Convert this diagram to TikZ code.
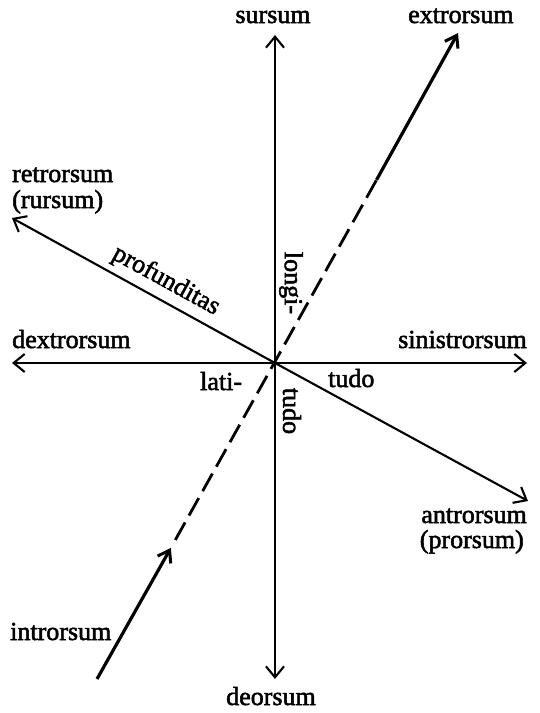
\documentclass[tikz,border=0pt]{standalone}
\usepackage{fontspec}
\setmainfont{Liberation Serif}[FakeBold=2]
\usetikzlibrary{arrows.meta,calc}
\tikzset{
  lab/.style={inner sep=0pt, font=\fontsize{26}{28}\selectfont},
  axis/.style={line width=2.1pt, -{Straight Barb[length=11pt,width=18pt,line width=2.1pt]}},
  diag/.style={line width=3.2pt, -{Straight Barb[length=11pt,width=15pt,line width=3pt]}},
  dashline/.style={line width=2.8pt, dash pattern=on 20pt off 8pt}
}
\begin{document}
\begin{tikzpicture}[x=1pt,y=-1pt]
\path[use as bounding box] (0,0) rectangle (540,713);
% points
\coordinate (O) at (275,363);
\coordinate (N) at (275,35);
\coordinate (S) at (275,679);
\coordinate (W) at (12,363);
\coordinate (E) at (527,363);
\coordinate (RL) at (12,218);
\coordinate (AR) at (528,501);
\coordinate (EX) at (458,33);
\coordinate (IN) at (97,679);
\coordinate (U1) at ($(O)!0.555!(EX)$);
\coordinate (L1) at ($(O)!0.585!(IN)$);
\coordinate (L2) at ($(O)!0.56!(IN)$);
% axes
\draw[axis] (O) -- (N);
\draw[axis] (O) -- (S);
\draw[axis] (O) -- (W);
\draw[axis] (O) -- (E);
\draw[axis] (O) -- (RL);
\draw[axis] (O) -- (AR);
% diagonal
\draw[diag] (U1) -- (EX);
\draw[diag] (IN) -- (L1);
\draw[dashline] (L2) -- (U1);
% labels
\node[lab, anchor=base] (sursum) at (273,23) {sursum};
\node[lab, anchor=base west] (extrorsum) at (408,23) {extrorsum};
\node[lab, anchor=base west] (retro) at (12,182) {retrorsum};
\node[lab, anchor=base west] (rursum) at (12,208) {(rursum)};
\node[lab, rotate=-28.8] (prof) at (166,281) {profunditas};
\node[lab, rotate=-90] (longi) at (291,283) {longi-};
\node[lab, anchor=base west] (dextro) at (12,348) {dextrorsum};
\node[lab, anchor=base east] (sinistro) at (527,348) {sinistrorsum};
\node[lab, anchor=base west] (lati) at (200,390) {lati-};
\node[lab, anchor=base west] (tudoh) at (328,387) {tudo};
\node[lab, rotate=-90] (tudov) at (292,411) {tudo};
\node[lab, anchor=base east] (antro) at (527,523) {antrorsum};
\node[lab, anchor=base east] (prorsum) at (524,548) {(prorsum)};
\node[lab, anchor=base west] (intro) at (10,640) {introrsum};
\node[lab, anchor=base] (deorsum) at (271,705) {deorsum};
\end{tikzpicture}
\end{document}
